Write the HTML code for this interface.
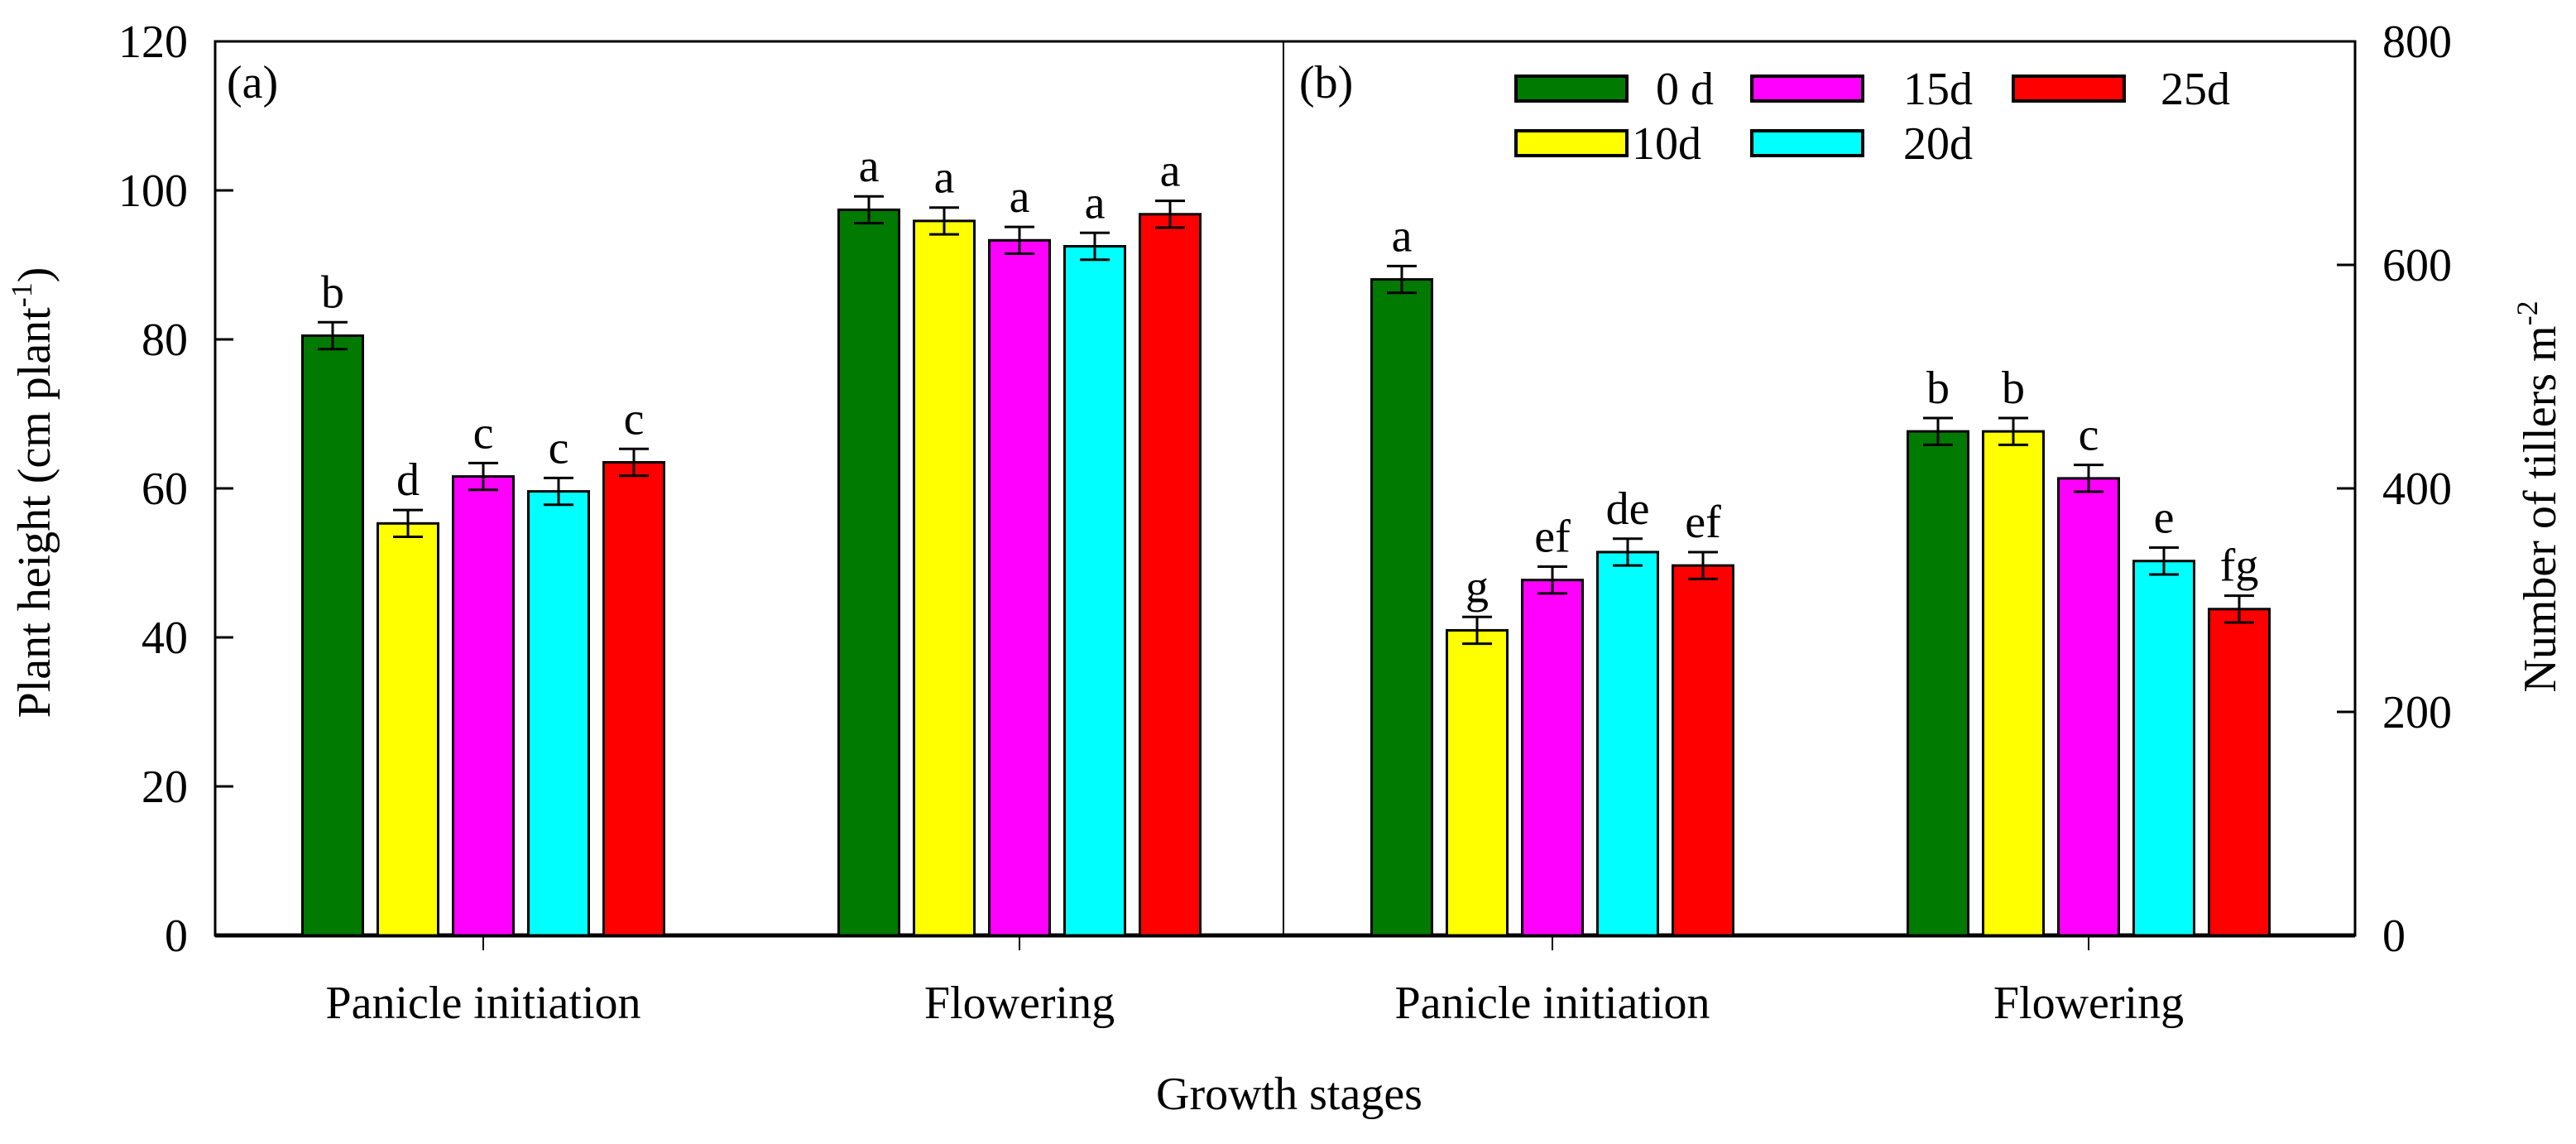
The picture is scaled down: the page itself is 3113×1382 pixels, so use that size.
<!DOCTYPE html>
<html><head><meta charset="utf-8"><style>
html,body{margin:0;padding:0;background:#fff;}
svg{display:block;font-family:"Liberation Serif","Times New Roman",serif;}
</style></head><body>
<svg id="chart" width="3113" height="1382" viewBox="0 0 3113 1382" xmlns="http://www.w3.org/2000/svg"></svg>
<script>
const categories = ["Panicle initiation", "Flowering"];
const seriesNames = ["0 d", "10d", "15d", "20d", "25d"];
const seriesColors = ["#007a00", "#ffff00", "#ff00ff", "#00ffff", "#ff0000"];
const heightValues = [[80.5, 97.4], [55.3, 95.9], [61.6, 93.3], [59.6, 92.5], [63.5, 96.8]];
const heightErrors = [[1.8, 1.8], [1.8, 1.8], [1.8, 1.8], [1.8, 1.8], [1.8, 1.8]];
const heightLetters = [["b", "a"], ["d", "a"], ["c", "a"], ["c", "a"], ["c", "a"]];
const tillerValues = [[587, 451], [273, 451], [318, 409], [343, 335], [331, 292]];
const tillerErrors = [[12, 12], [12, 12], [12, 12], [12, 12], [12, 12]];
const tillerLetters = [["a", "b"], ["g", "b"], ["ef", "c"], ["de", "e"], ["ef", "fg"]];
const leftTicks = [0, 20, 40, 60, 80, 100, 120];
const rightTicks = [0, 200, 400, 600, 800];

const NS = "http://www.w3.org/2000/svg";
const svgEl = document.getElementById("chart");
function mk(tag, attrs, parent, text) {
  const e = document.createElementNS(NS, tag);
  for (const k in attrs) e.setAttribute(k, attrs[k]);
  if (text !== undefined) e.textContent = text;
  (parent || svgEl).appendChild(e);
  return e;
}
const plotTop = 50, plotBottom = 1130, plotL = 260, plotM = 1551, plotR = 2846;
const yL = v => plotBottom - (v / 120) * (plotBottom - plotTop);
const yR = v => plotBottom - (v / 800) * (plotBottom - plotTop);
const groupCenterL = [584, 1232];
const groupCenterR = [1876, 2524];
const barStep = 91, barW = 73;

let f = mk("rect", {x: plotL, y: plotTop, width: plotR - plotL, height: plotBottom - plotTop, fill: "none", stroke: "#000", "stroke-width": 3});


let dv = mk("line", {x1: plotM, y1: plotTop, x2: plotM, y2: plotBottom, stroke: "#000", "stroke-width": 2});


let bx = mk("line", {x1: plotL, y1: plotBottom, x2: plotR, y2: plotBottom, stroke: "#000", "stroke-width": 5});



leftTicks.forEach(t => {
  const y = yL(t);
  const tk = mk("line", {x1: plotL, y1: y, x2: plotL + 22, y2: y, stroke: "#000", "stroke-width": 3});
  
  
  const lb = mk("text", {x: 227, y: y + 19, "text-anchor": "end", "font-size": 56}, svgEl, String(t));
  
  
});
rightTicks.forEach(t => {
  const y = yR(t);
  const tk = mk("line", {x1: plotR - 22, y1: y, x2: plotR, y2: y, stroke: "#000", "stroke-width": 3});
  
  
  const lb = mk("text", {x: 2879, y: y + 19, "text-anchor": "start", "font-size": 56}, svgEl, String(t));
  
  
});

function drawPanel(centers, vals, errs, letters, yf, prefix) {
  categories.forEach((c, ci) => {
    const cx = centers[ci];
    const tk = mk("line", {x1: cx, y1: plotBottom, x2: cx, y2: plotBottom + 18, stroke: "#000", "stroke-width": 2});
    
    
    const lb = mk("text", {x: cx, y: 1230, "text-anchor": "middle", "font-size": 56}, svgEl, c);
    
    
    seriesNames.forEach((s, si) => {
      const v = vals[si][ci], e = errs[si][ci];
      const x = cx + (si - 2) * barStep;
      const y = yf(v);
      const b = mk("rect", {x: x - barW / 2, y: y, width: barW, height: plotBottom - y, fill: seriesColors[si], stroke: "#000", "stroke-width": 3});
      
      
      const y1 = yf(v + e), y2 = yf(v - e);
      const g = mk("path", {d: `M${x} ${y1}V${y2}M${x - 18} ${y1}H${x + 18}M${x - 18} ${y2}H${x + 18}`, stroke: "#000", "stroke-width": 3, fill: "none"});
      
      
      const t = mk("text", {x: x, y: y1 - 18, "text-anchor": "middle", "font-size": 56}, svgEl, letters[si][ci]);
      
      
    });
  });
}
drawPanel(groupCenterL, heightValues, heightErrors, heightLetters, yL, 'plant-height');
drawPanel(groupCenterR, tillerValues, tillerErrors, tillerLetters, yR, 'tillers');

let pa = mk("text", {x: 274, y: 118, "font-size": 56}, svgEl, "(a)");


let pb = mk("text", {x: 1570, y: 118, "font-size": 56}, svgEl, "(b)");



const legendPos = [[1832, 92, 2001], [1832, 158, 1972], [2117, 92, 2300], [2117, 158, 2300], [2433, 92, 2611]];
seriesNames.forEach((s, si) => {
  const p = legendPos[si];
  const r = mk("rect", {x: p[0], y: p[1], width: 134, height: 30, fill: seriesColors[si], stroke: "#000", "stroke-width": 4});
  
  
  const t = mk("text", {x: p[2], y: p[1] + 34, "font-size": 56}, svgEl, s);
  
  
});

let yt = mk("text", {x: 0, y: 0, transform: "translate(60,595) rotate(-90)", "text-anchor": "middle", "font-size": 56}, svgEl);


yt.innerHTML = 'Plant height (cm plant<tspan dy="-22" font-size="36">-1</tspan><tspan dy="22">)</tspan>';
let rt = mk("text", {x: 0, y: 0, transform: "translate(3088,600) rotate(-90)", "text-anchor": "middle", "font-size": 56}, svgEl);


rt.innerHTML = 'Number of tillers m<tspan dy="-22" font-size="36">-2</tspan>';
let xt = mk("text", {x: 1558, y: 1340, "text-anchor": "middle", "font-size": 56}, svgEl, "Growth stages");


</script>
</body></html>
